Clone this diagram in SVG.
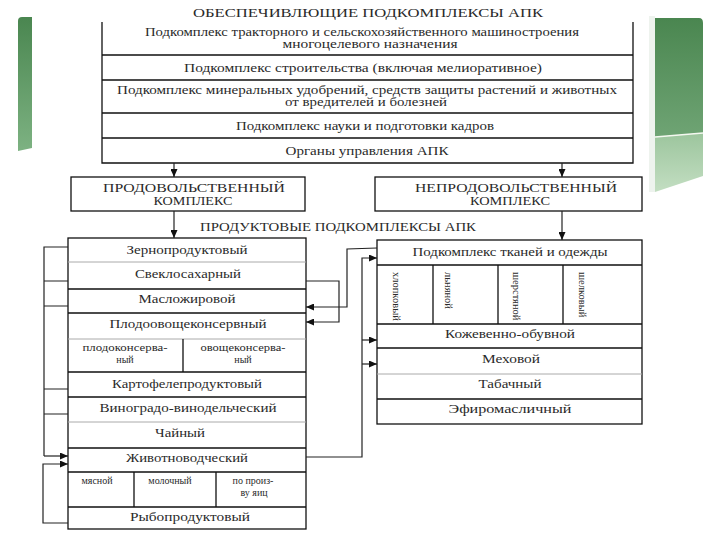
<svg xmlns="http://www.w3.org/2000/svg" width="720" height="540" viewBox="0 0 720 540" font-family="'Liberation Serif', 'DejaVu Serif', serif">
<defs>
<linearGradient id="gL" x1="0" y1="0" x2="0" y2="1"><stop offset="0" stop-color="#4a8650"/><stop offset="1" stop-color="#7db282"/></linearGradient>
<linearGradient id="gR" x1="0" y1="0" x2="0" y2="1"><stop offset="0" stop-color="#4a8650"/><stop offset="1" stop-color="#6fa474"/></linearGradient>
<linearGradient id="gR2" x1="0" y1="0" x2="0" y2="1"><stop offset="0" stop-color="#9cc59d"/><stop offset="1" stop-color="#c3dec2"/></linearGradient>
<marker id="ah" markerWidth="8" markerHeight="7" refX="8" refY="3.5" orient="auto" markerUnits="userSpaceOnUse"><path d="M0,0 L8,3.5 L0,7 Z" fill="#111"/></marker>
<style>
text{font-family:'Liberation Serif','DejaVu Serif',serif;fill:#2a2a2a;text-anchor:middle}
.t{font-size:11.5px}
.c{font-size:12.5px}
.s{font-size:10px}
.v{font-size:10.5px;text-anchor:start}
.b{fill:#fff;stroke:#111;stroke-width:1.3}
.d{stroke:#111;stroke-width:1.3;fill:none}
.g{stroke:#aaa;stroke-width:1;fill:none}
.k{stroke:#222;stroke-width:1.2;fill:none}
.ka{stroke:#222;stroke-width:1.2;fill:none;marker-end:url(#ah)}
</style>
</defs>
<rect width="720" height="540" fill="#fff"/>
<!-- decorations -->
<path d="M18,21 Q18,17 22,17 L32,17 L32,148 L18,151 Z" fill="url(#gL)"/>
<rect x="649" y="16" width="6" height="176" fill="#eef3ee"/>
<path d="M655,18 L699,18 Q703,18 703,23 L703,133 L655,137 Z" fill="url(#gR)"/>
<path d="M655,137 L703,133 L703,176 L655,192 Z" fill="url(#gR2)"/>
<path d="M655,137 L703,133" stroke="#f4f8f0" stroke-width="1.5"/>

<!-- top block -->
<g id="obesp">
<text class="c" x="368" y="17" textLength="350" lengthAdjust="spacingAndGlyphs" style="font-size:13.5px">ОБЕСПЕЧИВЛЮЩИЕ ПОДКОМПЛЕКСЫ АПК</text>
<path class="d" d="M102,22 V163 H633 V22"/>
<path class="d" d="M102,55 H633 M102,80 H633 M102,113 H633 M102,138 H633"/>
<text class="t" x="362" y="36" textLength="434" lengthAdjust="spacingAndGlyphs">Подкомплекс тракторного и сельскохозяйственного машиностроения</text>
<text class="t" x="370" y="48" textLength="175" lengthAdjust="spacingAndGlyphs">многоцелевого назначения</text>
<text class="t" x="363" y="71.5" textLength="358" lengthAdjust="spacingAndGlyphs">Подкомплекс строительства (включая мелиоративное)</text>
<text class="t" x="367" y="94" textLength="500" lengthAdjust="spacingAndGlyphs">Подкомплекс минеральных удобрений, средств защиты растений и животных</text>
<text class="t" x="366" y="106" textLength="162" lengthAdjust="spacingAndGlyphs">от вредителей и болезней</text>
<text class="t" x="365" y="129.5" textLength="258" lengthAdjust="spacingAndGlyphs">Подкомплекс науки и подготовки кадров</text>
<text class="t" x="367" y="154.5" textLength="163" lengthAdjust="spacingAndGlyphs">Органы управления АПК</text>
</g>

<g id="prod">
<rect class="b" x="71" y="177" width="234" height="34"/>
<text class="c" x="194" y="191.5" textLength="182" lengthAdjust="spacingAndGlyphs">ПРОДОВОЛЬСТВЕННЫЙ</text>
<text class="c" x="193" y="205" textLength="79" lengthAdjust="spacingAndGlyphs">КОМПЛЕКС</text>
</g>
<g id="neprod">
<rect class="b" x="375" y="177" width="267" height="34"/>
<text class="c" x="516" y="191.5" textLength="202" lengthAdjust="spacingAndGlyphs">НЕПРОДОВОЛЬСТВЕННЫЙ</text>
<text class="c" x="510" y="205" textLength="80" lengthAdjust="spacingAndGlyphs">КОМПЛЕКС</text>
</g>
<text class="c" x="338" y="231" textLength="276" lengthAdjust="spacingAndGlyphs">ПРОДУКТОВЫЕ ПОДКОМПЛЕКСЫ АПК</text>

<!-- left food block -->
<g id="food">
<rect class="b" x="68" y="238" width="238" height="291"/>
<path class="g" d="M68,262 H306 M68,339 H306 M68,422 H306"/>
<path class="d" d="M68,289 H306 M68,313 H306 M68,372 H306 M68,397 H306 M68,448 H306 M68,472 H306 M68,507 H306"/>
<path class="d" d="M183,339 V372 M134,472 V507 M216,472 V507"/>
<text class="t" x="187" y="253.5" textLength="121" lengthAdjust="spacingAndGlyphs">Зернопродуктовый</text>
<text class="t" x="188" y="277.5" textLength="106" lengthAdjust="spacingAndGlyphs">Свеклосахарный</text>
<text class="t" x="187" y="303" textLength="97" lengthAdjust="spacingAndGlyphs">Масложировой</text>
<text class="t" x="188" y="328" textLength="157" lengthAdjust="spacingAndGlyphs">Плодоовощеконсервный</text>
<text class="s" x="125" y="351" textLength="85" lengthAdjust="spacingAndGlyphs">плодоконсерва-</text>
<text class="s" x="125" y="363">ный</text>
<text class="s" x="243" y="351" textLength="85" lengthAdjust="spacingAndGlyphs">овощеконсерва-</text>
<text class="s" x="243" y="363">ный</text>
<text class="t" x="187" y="388" textLength="150" lengthAdjust="spacingAndGlyphs">Картофелепродуктовый</text>
<text class="t" x="188" y="411.5" textLength="177" lengthAdjust="spacingAndGlyphs">Виноградо-винодельческий</text>
<text class="t" x="180" y="436.5" textLength="50" lengthAdjust="spacingAndGlyphs">Чайный</text>
<text class="t" x="187" y="462" textLength="122" lengthAdjust="spacingAndGlyphs">Животноводческий</text>
<text class="s" x="97" y="484">мясной</text>
<text class="s" x="170" y="484">молочный</text>
<text class="s" x="253" y="484">по произ-</text>
<text class="s" x="254" y="496">ву яиц</text>
<text class="t" x="190" y="521" textLength="120" lengthAdjust="spacingAndGlyphs">Рыбопродуктовый</text>
</g>

<!-- right nonfood block -->
<g id="nonfood">
<rect class="b" x="377" y="240" width="265" height="184"/>
<path class="d" d="M377,265 H642 M377,324 H642 M377,348 H642 M377,399 H642"/>
<path class="g" d="M377,374 H642"/>
<path class="d" d="M433,265 V324 M498,265 V324 M563,265 V324"/>
<text class="t" x="510" y="256" textLength="195" lengthAdjust="spacingAndGlyphs">Подкомплекс тканей и одежды</text>
<text class="v" transform="translate(393,272) rotate(90)">хлопковый</text>
<text class="v" transform="translate(445,272) rotate(90)">льняной</text>
<text class="v" transform="translate(513,272) rotate(90)">шерстяной</text>
<text class="v" transform="translate(579,272) rotate(90)">шелковый</text>
<text class="t" x="510" y="338" textLength="130" lengthAdjust="spacingAndGlyphs">Кожевенно-обувной</text>
<text class="t" x="511" y="363" textLength="58" lengthAdjust="spacingAndGlyphs">Меховой</text>
<text class="t" x="510" y="388" textLength="63" lengthAdjust="spacingAndGlyphs">Табачный</text>
<text class="t" x="510" y="413" textLength="123" lengthAdjust="spacingAndGlyphs">Эфиромасличный</text>
</g>

<!-- connectors -->
<g id="connectors">
<path class="ka" d="M174,163 V177"/>
<path class="ka" d="M562,163 V177"/>
<path class="ka" d="M174,211 V238"/>
<path class="ka" d="M562,211 V240"/>
<path class="k" d="M68,247 H44 V456 M44,281 H68 M44,306 H68 M44,389 H68 M44,414 H68"/>
<path class="ka" d="M44,456 H68"/>
<path class="ka" d="M68,523 H43 V464 H68"/>
<path class="ka" d="M377,248 L347,249 V307 H306"/>
<path class="ka" d="M306,281 H339 V322 H306"/>
<path class="ka" d="M306,457 H362 V258 H377"/>
<path class="ka" d="M362,340 H377"/>
<path class="ka" d="M362,364 H377"/>
</g>
</svg>
